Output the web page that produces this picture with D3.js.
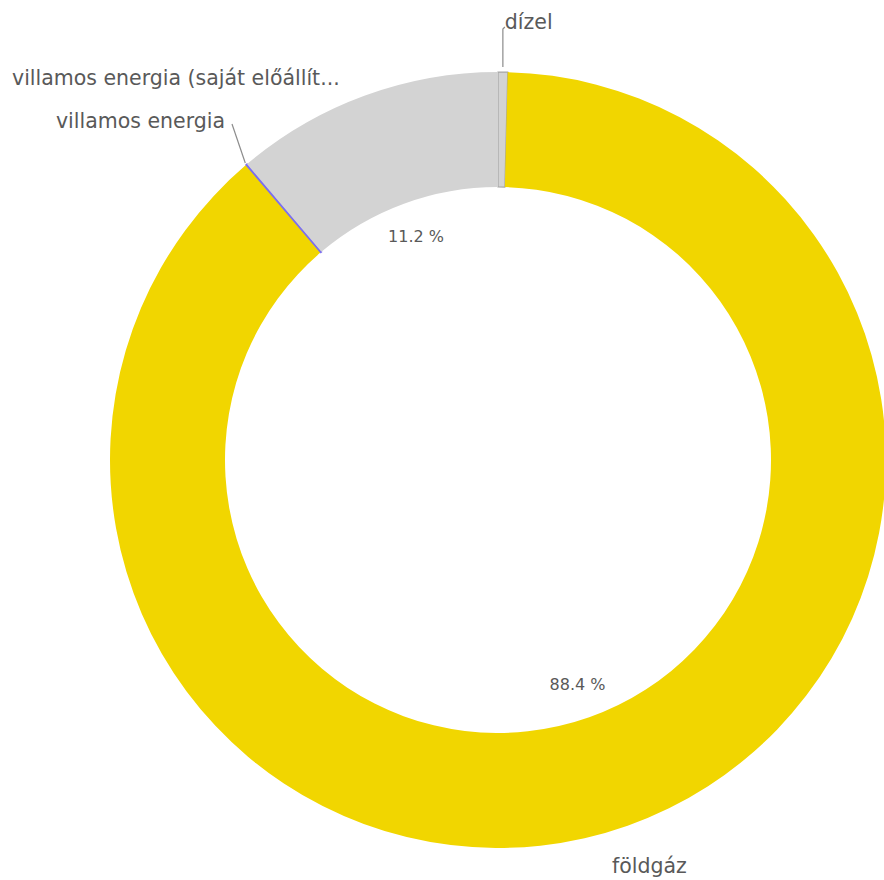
<!DOCTYPE html>
<html>
<head>
<meta charset="utf-8">
<title>Energiahordozók</title>
<script src="https://cdn.jsdelivr.net/npm/d3@7/dist/d3.min.js"></script>
<style>
body { margin: 0; background: #fff; }
text { font-family: "DejaVu Sans", sans-serif; fill: #595959; }
</style>
</head>
<body>
<div id="chart"></div>
<script>
// slices, clockwise from 12 o'clock
var categories = ["dízel", "földgáz", "villamos energia", "villamos energia (saját előállít..."];
var values = [0.4, 88.4, 0.05, 11.2];
var pctLabels = ["", "88.4 %", "", "11.2 %"];
var colors = ["#d3d3d3", "#f1d600", "#7b6ef0", "#d3d3d3"];

var w = 884, h = 880;
var cx = 498, cy = 460, rOut = 388, rIn = 273;

var svg = d3.select("#chart").append("svg")
    .attr("width", w).attr("height", h);

var g = svg.append("g").attr("transform", "translate(" + cx + "," + cy + ")");

var data = categories.map(function(c, i) { return { name: c, value: values[i], pct: pctLabels[i], color: colors[i] }; });

var pie = d3.pie().sort(null).value(function(d) { return d.value; });
var arc = d3.arc().innerRadius(rIn).outerRadius(rOut);
var arcs = pie(data);

g.selectAll("path.slice")
    .data(arcs)
    .enter().append("path")
    .attr("class", "slice")
    .attr("d", arc)
    .attr("fill", function(d) { return d.data.color; })
    .attr("stroke", function(d, i) { return i === 0 ? "#a6a6a6" : (i === 2 ? "#7b6ef0" : "none"); })
    .attr("stroke-width", function(d, i) { return i === 2 ? 1.5 : 1.2; });

// percent labels inside the hole
var inArc = d3.arc().innerRadius(238).outerRadius(238);
g.selectAll("text.pct")
    .data(arcs.filter(function(d) { return d.data.pct; }))
    .enter().append("text")
    .attr("class", "pct")
    .attr("transform", function(d) { return "translate(" + inArc.centroid(d) + ")"; })
    .attr("text-anchor", "middle")
    .attr("dy", "0.35em")
    .style("font-size", "16px")
    .text(function(d) { return d.data.pct; });

function mid(d) { return (d.startAngle + d.endAngle) / 2; }
function pt(a, r) { return [Math.sin(a) * r, -Math.cos(a) * r]; }

// dízel
var dz = arcs[0], p0 = pt(mid(dz), rOut);
g.append("path")
    .attr("d", "M" + [p0[0], p0[1] - 5] + "L" + [p0[0], -431] + "L" + [p0[0] + 2, -433])
    .attr("fill", "none").attr("stroke", "#8c8c8c").attr("stroke-width", 1.2);
g.append("text").attr("x", p0[0] + 2).attr("y", -431)
    .style("font-size", "20.5px").text(dz.data.name);

// villamos energia
var ve = arcs[2], p1 = pt(mid(ve), rOut + 2);
g.append("path")
    .attr("d", "M" + p1 + "L" + [-266, -336])
    .attr("fill", "none").attr("stroke", "#8c8c8c").attr("stroke-width", 1.2);
g.append("text").attr("x", -273).attr("y", -339).attr("text-anchor", "end").attr("dy", "0.35em")
    .style("font-size", "20.5px").text(ve.data.name);

// villamos energia (saját előállít...)
g.append("text").attr("x", -486).attr("y", -382).attr("dy", "0.35em")
    .style("font-size", "20.5px").text(arcs[3].data.name);

// földgáz
g.append("text").attr("x", 114).attr("y", 406).attr("dy", "0.35em")
    .style("font-size", "20.5px").text(arcs[1].data.name);
</script>
</body>
</html>
